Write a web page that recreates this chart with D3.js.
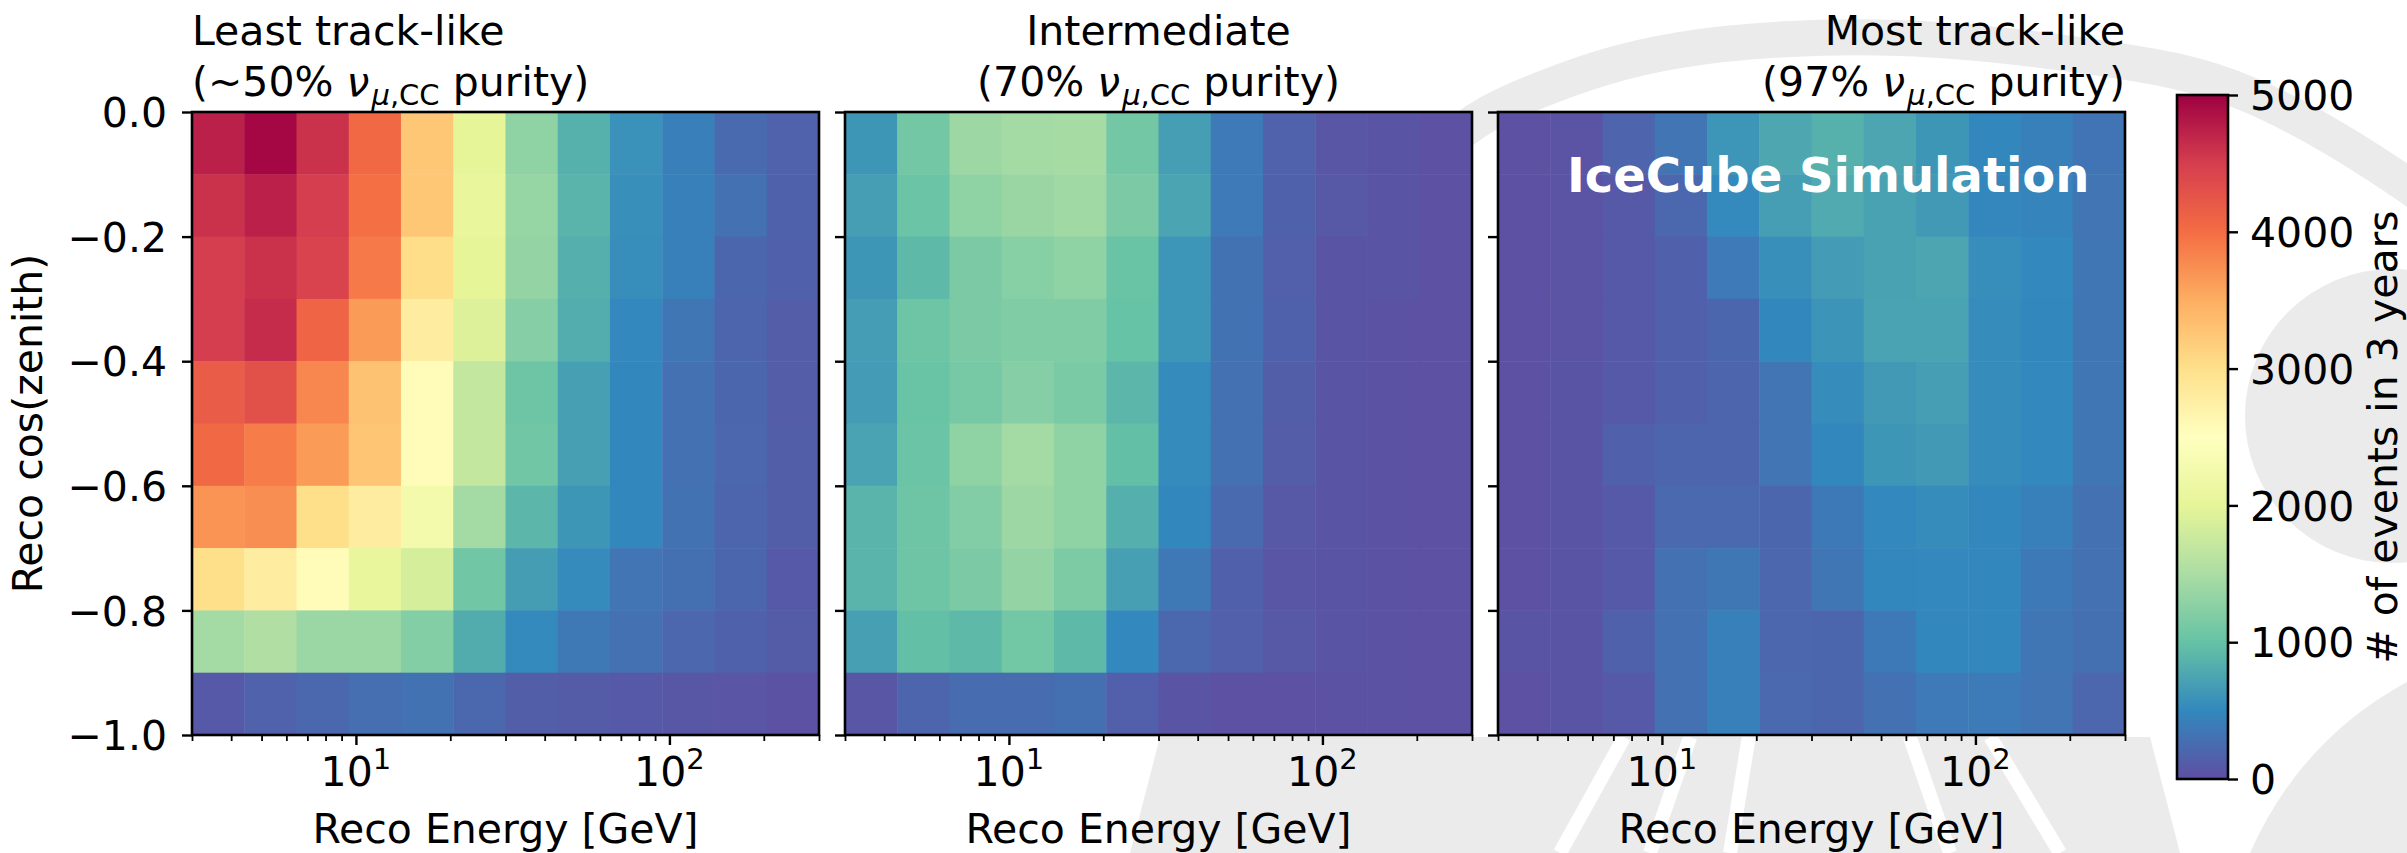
<!DOCTYPE html>
<html>
<head>
<meta charset="utf-8">
<script src="https://cdn.jsdelivr.net/npm/d3@7"></script>
<style>
  body { margin: 0; background: #fff; }
  svg { display: block; }
  text { font-family: "DejaVu Sans", sans-serif; }
</style>
</head>
<body>
<svg id="fig" width="2407" height="853"></svg>
<script>
// ---- binning ----
const energyEdges = [3.0, 4.403, 6.463, 9.487, 13.92, 20.44, 30.0, 44.03, 64.63, 94.87, 139.2, 204.4, 300.0];
const cosZenithEdges = [0.0, -0.1, -0.2, -0.3, -0.4, -0.5, -0.6, -0.7, -0.8, -0.9, -1.0]; // top to bottom

// ---- panel titles ----
const panelNames = ["Least track-like", "Intermediate", "Most track-like"];
const purityLabels = ["(~50% ", "(70% ", "(97% "];

// ---- event counts in 3 years, rows from cos(zenith)=0 (top) down to -1 ----
const countsLeast = [
  [4750, 4950, 4600, 4050, 3250, 2000, 1300, 850, 575, 420, 237, 170],
  [4600, 4750, 4500, 3980, 3250, 2050, 1350, 880, 560, 430, 300, 160],
  [4500, 4600, 4450, 3900, 3020, 1990, 1330, 840, 550, 430, 200, 150],
  [4500, 4650, 4100, 3650, 2790, 1915, 1230, 820, 510, 340, 190, 120],
  [4180, 4300, 3800, 3300, 2550, 1700, 1050, 700, 500, 300, 200, 120],
  [4050, 3880, 3650, 3270, 2550, 1700, 1080, 700, 500, 300, 210, 130],
  [3700, 3750, 3000, 2800, 2250, 1450, 900, 620, 500, 310, 190, 130],
  [3000, 2800, 2550, 2050, 1850, 1070, 680, 530, 330, 290, 200, 90],
  [1450, 1550, 1380, 1380, 1220, 810, 520, 360, 300, 210, 160, 110],
  [90, 170, 220, 280, 310, 220, 130, 110, 90, 70, 50, 30]
];
const countsIntermediate = [
  [620, 1100, 1400, 1450, 1470, 1100, 690, 380, 170, 60, 40, 20],
  [690, 1030, 1300, 1370, 1420, 1150, 740, 380, 160, 80, 45, 20],
  [620, 920, 1150, 1240, 1300, 1020, 610, 310, 140, 40, 40, 20],
  [670, 1050, 1150, 1180, 1180, 1010, 610, 310, 160, 45, 30, 20],
  [660, 1020, 1120, 1230, 1140, 900, 530, 300, 130, 45, 30, 20],
  [730, 1030, 1300, 1450, 1300, 970, 530, 300, 120, 45, 30, 20],
  [880, 1060, 1200, 1400, 1300, 840, 500, 240, 80, 45, 30, 20],
  [880, 1060, 1150, 1330, 1170, 700, 360, 150, 60, 40, 30, 20],
  [700, 970, 920, 1090, 920, 510, 220, 140, 80, 45, 30, 20],
  [60, 190, 250, 250, 290, 140, 40, 15, 20, 30, 30, 20]
];
const countsMost = [
  [20, 35, 185, 330, 610, 770, 845, 750, 620, 500, 430, 325],
  [20, 35, 90, 220, 520, 690, 790, 720, 650, 490, 465, 330],
  [20, 35, 90, 150, 380, 560, 660, 720, 750, 550, 510, 340],
  [20, 35, 90, 150, 200, 500, 600, 735, 735, 540, 500, 340],
  [20, 40, 90, 150, 190, 330, 540, 650, 690, 540, 510, 340],
  [20, 40, 150, 190, 190, 330, 500, 620, 650, 540, 510, 340],
  [20, 40, 90, 230, 230, 200, 370, 510, 540, 500, 430, 300],
  [20, 40, 90, 300, 350, 210, 340, 500, 510, 500, 370, 300],
  [40, 40, 160, 300, 430, 210, 200, 370, 500, 500, 340, 290],
  [20, 40, 90, 300, 430, 230, 200, 300, 380, 390, 330, 210]
];

// ---- axis ticks ----
const yTicks = [0.0, -0.2, -0.4, -0.6, -0.8, -1.0];
const xMajorTicks = [10, 100];
const xMajorExponents = ["1", "2"];
const xMinorTicks = [3, 4, 5, 6, 7, 8, 9, 20, 30, 40, 50, 60, 70, 80, 90, 200, 300];
const colorbarTicks = [0, 1000, 2000, 3000, 4000, 5000];

// Spectral_r colour stops
const spectralR = ["#5e4fa2", "#3288bd", "#66c2a5", "#abdda4", "#e6f598", "#ffffbf",
                   "#fee08b", "#fdae61", "#f46d43", "#d53e4f", "#9e0142"];
const vmax = 5000;

(function draw() {
  const svg = d3.select("#fig");
  const FONT = 41;

  // ---- faint logo in the background ----
  const wmColor = "#ebebeb";
  const wm = svg.append("g");
  wm.append("path")
    .attr("d", d3.line().curve(d3.curveNatural)([[1330, 290], [1440, 150], [1540, 90], [1680, 50], [1900, 38], [2100, 58], [2250, 95], [2407, 185], [2520, 270]]))
    .attr("fill", "none").attr("stroke", wmColor).attr("stroke-width", 36);
  wm.append("circle").attr("cx", 2392).attr("cy", 416).attr("r", 147).attr("fill", wmColor);
  wm.append("path").attr("d", "M2407,682 Q2300,740 2250,853 L2407,853 Z").attr("fill", wmColor);
  wm.append("path").attr("d", "M1160,737 L2150,737 L2180,853 L1130,853 Z").attr("fill", wmColor);
  const apex = [1800, 420];
  [1560, 1650, 1730, 1950, 2060].forEach(bx => {
    const t0 = (737 - apex[1]) / (853 - apex[1]);
    wm.append("line")
      .attr("x1", apex[0] + (bx - apex[0]) * t0).attr("y1", 737)
      .attr("x2", bx).attr("y2", 853)
      .attr("stroke", "#fff").attr("stroke-width", 14);
  });

  // ---- scales ----
  const panelX0 = [192, 845, 1498];
  const panelW = 627;
  const plotTop = 112, plotBottom = 735;
  const y = d3.scaleLinear().domain([-1, 0]).range([plotBottom, plotTop]);
  const color = d3.scaleLinear()
    .domain(spectralR.map((_, i) => i * vmax / (spectralR.length - 1)))
    .range(spectralR).clamp(true);

  const panels = [countsLeast, countsIntermediate, countsMost];
  const fmt = v => (v === 0 ? "0.0" : d3.format(".1f")(v).replace("-", "\u2212"));

  panels.forEach((counts, p) => {
    const x0 = panelX0[p];
    const x = d3.scaleLog().domain([energyEdges[0], energyEdges[energyEdges.length - 1]]).range([x0, x0 + panelW]);
    const g = svg.append("g");

    // cells
    counts.forEach((row, r) => {
      row.forEach((v, c) => {
        const xa = x(energyEdges[c]), xb = x(energyEdges[c + 1]);
        const ya = y(cosZenithEdges[r]), yb = y(cosZenithEdges[r + 1]);
        g.append("rect")
          .attr("x", xa).attr("y", ya)
          .attr("width", xb - xa + 0.5).attr("height", yb - ya + 0.5)
          .attr("fill", color(v));
      });
    });

    // frame
    g.append("rect").attr("x", x0).attr("y", plotTop).attr("width", panelW).attr("height", plotBottom - plotTop)
      .attr("fill", "none").attr("stroke", "#000").attr("stroke-width", 2.6);

    // y axis
    const yAxis = g.append("g").attr("transform", `translate(${x0},0)`)
      .call(d3.axisLeft(y).tickValues(yTicks).tickSize(10).tickPadding(15)
        .tickFormat(p === 0 ? fmt : () => ""));
    yAxis.select(".domain").remove();
    yAxis.selectAll("line").attr("stroke", "#000").attr("stroke-width", 2.4);
    yAxis.selectAll("text").attr("font-size", FONT).attr("fill", "#000")
      .attr("font-family", "DejaVu Sans").attr("dy", "0.36em");

    // x axis: major and minor ticks
    const xMinor = g.append("g").attr("transform", `translate(0,${plotBottom})`)
      .call(d3.axisBottom(x).tickValues(xMinorTicks).tickSize(6).tickFormat(() => ""));
    xMinor.select(".domain").remove();
    xMinor.selectAll("line").attr("stroke", "#000").attr("stroke-width", 1.8);
    const xMajor = g.append("g").attr("transform", `translate(0,${plotBottom})`)
      .call(d3.axisBottom(x).tickValues(xMajorTicks).tickSize(10).tickFormat(() => ""));
    xMajor.select(".domain").remove();
    xMajor.selectAll("line").attr("stroke", "#000").attr("stroke-width", 2.4);

    xMajorTicks.forEach((t, i) => {
      const lab = g.append("text").attr("x", x(t)).attr("y", 786)
        .attr("text-anchor", "middle").attr("font-size", FONT).attr("fill", "#000");
      lab.append("tspan").text("10");
      lab.append("tspan").attr("font-size", 29).attr("dy", -17).text(xMajorExponents[i]);
    });

    // x label
    g.append("text").attr("x", x0 + panelW / 2).attr("y", 843)
      .attr("text-anchor", "middle").attr("font-size", FONT).attr("fill", "#000")
      .text("Reco Energy [GeV]");

    // titles
    const anchor = ["start", "middle", "end"][p];
    const tx = [x0, x0 + panelW / 2, x0 + panelW][p];
    g.append("text").attr("x", tx).attr("y", 45).attr("text-anchor", anchor)
      .attr("font-size", FONT).attr("fill", "#000").text(panelNames[p]);
    const t2 = g.append("text").attr("x", tx).attr("y", 96).attr("text-anchor", anchor)
      .attr("font-size", FONT).attr("fill", "#000");
    t2.append("tspan").text(purityLabels[p]);
    t2.append("tspan").attr("font-style", "italic").text("\u03BD");
    t2.append("tspan").attr("font-size", 29).attr("dy", 9).attr("dx", 2).attr("font-style", "italic").text("\u03BC");
    t2.append("tspan").attr("font-size", 29).text(",CC");
    t2.append("tspan").attr("dy", -9).text(" purity)");
  });

  // y label
  svg.append("text").attr("transform", `translate(42,${(plotTop + plotBottom) / 2}) rotate(-90)`)
    .attr("text-anchor", "middle").attr("font-size", FONT).attr("fill", "#000")
    .text("Reco cos(zenith)");

  // simulation label
  svg.append("text").attr("x", 1567).attr("y", 192).attr("font-size", 48)
    .attr("font-weight", "bold").attr("fill", "#fff").text("IceCube Simulation");

  // ---- colorbar ----
  const cbX = 2177, cbW = 51, cbTop = 95, cbBottom = 779;
  const cy = d3.scaleLinear().domain([0, vmax]).range([cbBottom, cbTop]);
  const defs = svg.append("defs");
  const grad = defs.append("linearGradient").attr("id", "cbgrad")
    .attr("x1", 0).attr("y1", 1).attr("x2", 0).attr("y2", 0);
  spectralR.forEach((c, i) => grad.append("stop")
    .attr("offset", i / (spectralR.length - 1)).attr("stop-color", c));
  svg.append("rect").attr("x", cbX).attr("y", cbTop).attr("width", cbW).attr("height", cbBottom - cbTop)
    .attr("fill", "url(#cbgrad)").attr("stroke", "#000").attr("stroke-width", 2.6);
  const cbAxis = svg.append("g").attr("transform", `translate(${cbX + cbW},0)`)
    .call(d3.axisRight(cy).tickValues(colorbarTicks).tickSize(10).tickPadding(12).tickFormat(d3.format("d")));
  cbAxis.select(".domain").remove();
  cbAxis.selectAll("line").attr("stroke", "#000").attr("stroke-width", 2.4);
  cbAxis.selectAll("text").attr("font-size", FONT).attr("fill", "#000")
    .attr("font-family", "DejaVu Sans").attr("dy", "0.36em");
  svg.append("text").attr("transform", `translate(2397,${(cbTop + cbBottom) / 2}) rotate(-90)`)
    .attr("text-anchor", "middle").attr("font-size", FONT).attr("fill", "#000")
    .text("# of events in 3 years");
})();
</script>
</body>
</html>
